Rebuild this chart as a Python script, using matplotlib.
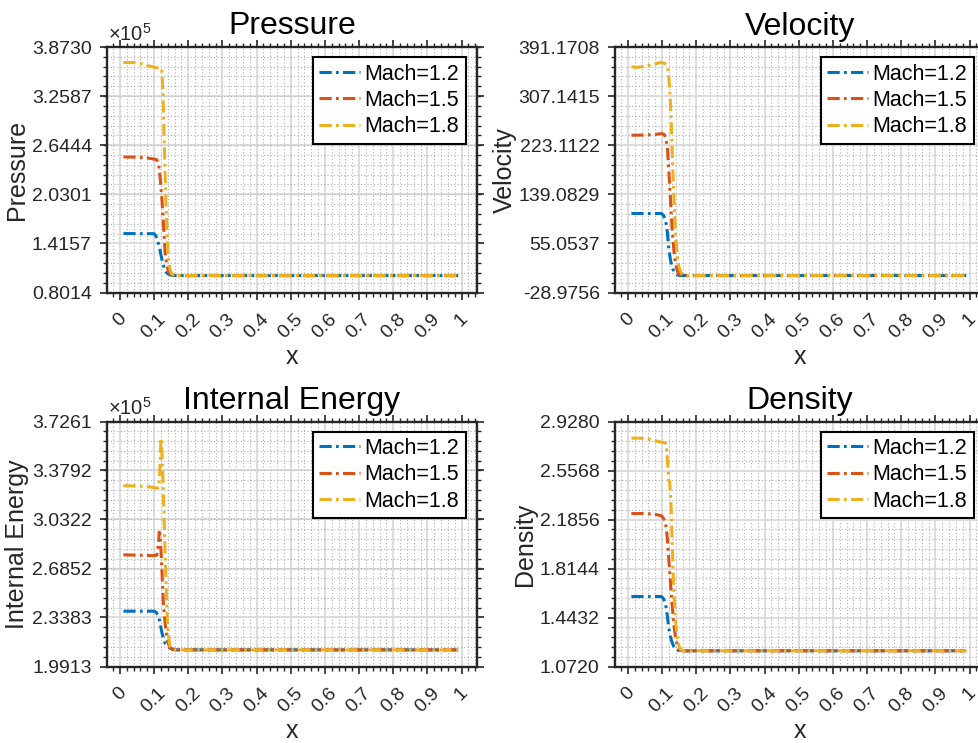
import numpy as np
import matplotlib
matplotlib.use('Agg')
import matplotlib.pyplot as plt
from matplotlib.ticker import MultipleLocator, AutoMinorLocator

plt.rcParams['font.family'] = ['Liberation Sans', 'DejaVu Sans']
plt.rcParams['mathtext.fontset'] = 'custom'
plt.rcParams['mathtext.rm'] = 'Liberation Sans'

labels = ['Mach=1.2', 'Mach=1.5', 'Mach=1.8']
colors = ['#0072BD', '#D95319', '#EDB120']
x_ticks = [0, 0.1, 0.2, 0.3, 0.4, 0.5, 0.6, 0.7, 0.8, 0.9, 1]
x_tick_labels = ['0', '0.1', '0.2', '0.3', '0.4', '0.5', '0.6', '0.7', '0.8', '0.9', '1']

# pressure (Pa)
p_x_12 = [0.01, 0.10, 0.105, 0.11, 0.115, 0.12, 0.125, 0.13, 0.135, 0.14, 0.15, 0.16, 0.99]
p_12 = [153900, 153700, 151000, 145000, 138000, 127000, 117000, 110000, 106000, 103500, 101800, 101300, 101300]
p_x_15 = [0.01, 0.05, 0.08, 0.10, 0.108, 0.113, 0.118, 0.123, 0.128, 0.132, 0.137, 0.142, 0.15, 0.16, 0.99]
p_15 = [249700, 249500, 248500, 247000, 246200, 241000, 222000, 195000, 160000, 130000, 115000, 106000, 102500, 101300, 101300]
p_x_18 = [0.01, 0.04, 0.06, 0.08, 0.10, 0.115, 0.122, 0.126, 0.130, 0.134, 0.138, 0.142, 0.147, 0.152, 0.16, 0.99]
p_18 = [367800, 367800, 366800, 364000, 362000, 360700, 360000, 330000, 260000, 200000, 155000, 122000, 108000, 103000, 101300, 101300]
p_ticks = ['0.8014', '1.4157', '2.0301', '2.6444', '3.2587', '3.8730']

# velocity (m/s)
u_x_12 = [0.01, 0.098, 0.104, 0.11, 0.115, 0.119, 0.124, 0.129, 0.134, 0.139, 0.146, 0.153, 0.99]
u_12 = [106.2, 106.2, 103, 94.7, 75, 49, 28, 14.8, 7, 3.5, 1, 0, 0]
u_x_15 = [0.01, 0.05, 0.08, 0.098, 0.105, 0.11, 0.115, 0.119, 0.124, 0.129, 0.134, 0.139, 0.144, 0.149, 0.158, 0.99]
u_15 = [240.1, 240.5, 241.5, 243, 242, 237, 220, 186, 135, 83, 45, 20.6, 9, 3.5, 0, 0]
u_x_18 = [0.01, 0.03, 0.05, 0.07, 0.09, 0.098, 0.108, 0.114, 0.119, 0.124, 0.128, 0.131, 0.135, 0.139, 0.144, 0.149, 0.156, 0.164, 0.99]
u_18 = [357, 356.5, 358, 361, 364, 364.5, 363, 360, 345, 300, 240, 186, 125, 72, 35, 14.8, 4, 0, 0]
u_ticks = ['-28.9756', '55.0537', '139.0829', '223.1122', '307.1415', '391.1708']

# internal energy (J/kg)
e_x_12 = [0.01, 0.10, 0.106, 0.113, 0.118, 0.123, 0.128, 0.132, 0.14, 0.147, 0.162, 0.99]
e_12 = [238300, 238300, 237500, 234500, 229000, 222800, 218500, 215700, 213300, 212100, 210900, 210900]
e_x_15 = [0.01, 0.10, 0.108, 0.112, 0.115, 0.118, 0.121, 0.124, 0.127, 0.132, 0.137, 0.142, 0.147, 0.155, 0.99]
e_15 = [278200, 277600, 278000, 285000, 294300, 290000, 277000, 260000, 244000, 230000, 220400, 215000, 212100, 210900, 210900]
e_x_18 = [0.01, 0.05, 0.09, 0.108, 0.114, 0.117, 0.120, 0.122, 0.125, 0.129, 0.132, 0.136, 0.139, 0.143, 0.147, 0.155, 0.99]
e_18 = [327100, 327000, 326200, 325400, 326000, 340000, 360800, 355000, 338400, 305000, 279400, 250000, 229800, 219000, 212800, 210900, 210900]
e_ticks = ['1.9913', '2.3383', '2.6852', '3.0322', '3.3792', '3.7261']

# density (kg/m^3)
r_x_12 = [0.01, 0.098, 0.104, 0.11, 0.115, 0.119, 0.124, 0.129, 0.134, 0.139, 0.146, 0.153, 0.99]
r_12 = [1.602, 1.602, 1.585, 1.547, 1.46, 1.369, 1.30, 1.255, 1.225, 1.204, 1.195, 1.191, 1.191]
r_x_15 = [0.01, 0.05, 0.08, 0.098, 0.105, 0.11, 0.115, 0.119, 0.124, 0.129, 0.134, 0.139, 0.144, 0.149, 0.158, 0.99]
r_15 = [2.231, 2.231, 2.225, 2.213, 2.19, 2.155, 2.05, 1.901, 1.72, 1.547, 1.40, 1.293, 1.235, 1.204, 1.191, 1.191]
r_x_18 = [0.01, 0.03, 0.05, 0.07, 0.09, 0.105, 0.11, 0.114, 0.119, 0.122, 0.126, 0.129, 0.132, 0.136, 0.14, 0.144, 0.148, 0.153, 0.162, 0.99]
r_18 = [2.802, 2.802, 2.80, 2.79, 2.775, 2.768, 2.764, 2.70, 2.485, 2.47, 2.30, 2.053, 1.80, 1.547, 1.40, 1.293, 1.24, 1.204, 1.191, 1.191]
r_ticks = ['1.0720', '1.4432', '1.8144', '2.1856', '2.5568', '2.9280']

panels = [
    ('Pressure', [(p_x_12, p_12), (p_x_15, p_15), (p_x_18, p_18)], p_ticks, 1e5),
    ('Velocity', [(u_x_12, u_12), (u_x_15, u_15), (u_x_18, u_18)], u_ticks, 1),
    ('Internal Energy', [(e_x_12, e_12), (e_x_15, e_15), (e_x_18, e_18)], e_ticks, 1e5),
    ('Density', [(r_x_12, r_12), (r_x_15, r_15), (r_x_18, r_18)], r_ticks, 1),
]

W, H = 979, 743
# axes boxes in pixels: left, top, width, height
boxes = [(107, 47, 370, 245.5), (615, 47, 370, 245.5),
         (107, 421.5, 370, 245), (615, 421.5, 370, 245)]
ylabel_x = [-0.212, -0.266, -0.21, -0.21]

fig = plt.figure(figsize=(W / 100, H / 100), dpi=100)
dark = '#262626'

for (name, series, tick_labels, scale), (l, t, w, h), lx in zip(panels, boxes, ylabel_x):
    ax = fig.add_axes([l / W, (H - t - h) / H, w / W, h / H])
    for (xs, ys), lab, c in zip(series, labels, colors):
        ax.plot(xs, ys, color=c, lw=2.2, dashes=(4, 1.4, 0.9, 1.4), label=lab)

    yt = [float(s) * scale for s in tick_labels]
    ax.set_xlim(-0.038, 1.045)
    ax.set_ylim(yt[0], yt[-1])
    ax.set_xticks(x_ticks)
    ax.set_xticklabels(x_tick_labels, rotation=45, ha='center', va='top')
    ax.set_yticks(yt)
    ax.set_yticklabels(tick_labels)
    if scale != 1:
        ax.text(0.003, 1.01, '×10$^{5}$', transform=ax.transAxes, fontsize=14.5,
                color=dark, ha='left', va='bottom')
    ax.xaxis.set_minor_locator(MultipleLocator(0.02))
    ax.yaxis.set_minor_locator(AutoMinorLocator(5))

    ax.tick_params(which='both', direction='out', top=True, right=True, color=dark,
                   labelcolor=dark, labelsize=14)
    ax.tick_params(which='major', length=5, width=1.2)
    ax.tick_params(which='minor', length=3, width=1.0)
    ax.tick_params(axis='x', which='major', pad=8)
    ax.tick_params(axis='y', which='major', pad=6)

    ax.grid(which='major', color='#dadada', lw=1.3, ls='-')
    ax.grid(which='minor', color='#b0b0b0', lw=0.8, ls=(0, (1, 2)))
    ax.set_axisbelow(True)
    for s in ax.spines.values():
        s.set_color(dark)
        s.set_linewidth(1.7)

    ax.set_title(name, fontsize=23, pad=9)
    ax.set_xlabel('x', fontsize=18, color=dark)
    ax.xaxis.set_label_coords(0.5, -0.215)
    ax.set_ylabel(name, fontsize=18, color=dark)
    ax.yaxis.set_label_coords(lx, 0.5)

    leg = ax.legend(loc='upper right', bbox_to_anchor=(0.969, 0.959), borderaxespad=0,
                    fontsize=15.5, fancybox=False, framealpha=1, edgecolor='black',
                    handlelength=1.9, handletextpad=0.2, labelspacing=0.25,
                    borderpad=0.3)
    leg.get_frame().set_linewidth(1.5)

fig.savefig('out.png', dpi=100)
